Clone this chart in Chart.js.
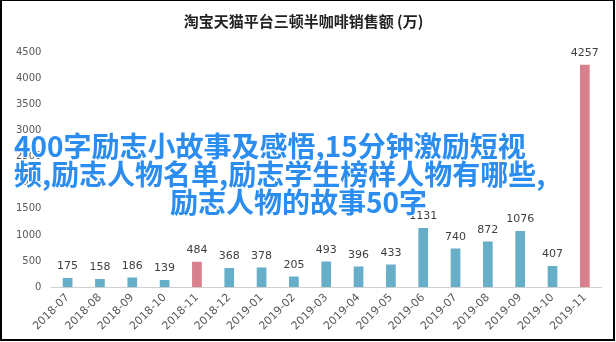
<!DOCTYPE html>
<html>
<head>
<meta charset="utf-8">
<script src="https://cdn.jsdelivr.net/npm/chart.js@4"></script>
<style>
  html, body { margin: 0; padding: 0; background: #fff; }
  #frame {
    position: absolute; left: 0; top: 0;
    width: 611px; height: 338px;
    border-left: 2px solid #000; border-right: 2px solid #000;
    border-top: 1px solid #000; border-bottom: 2px solid #000;
    background: #fff; overflow: hidden;
  }
  #chart { position: absolute; left: 0; top: 0; }
  .ov {
    position: absolute; white-space: nowrap;
    font-family: "Noto Sans CJK SC", sans-serif;
    font-weight: bold; font-size: 28px; line-height: 28px;
    color: #2b8def;
    text-shadow: 1px 1px 0 #fff, -1px -1px 0 #fff, 1px -1px 0 #fff, -1px 1px 0 #fff,
                 0 1px 0 #fff, 0 -1px 0 #fff, 1px 0 0 #fff, -1px 0 0 #fff;
  }
</style>
</head>
<body>
<div id="frame">
  <canvas id="chart" width="611" height="338"></canvas>
  <div class="ov" style="left:12px; top:130px;">400字励志小故事及感悟,15分钟激励短视</div>
  <div class="ov" style="left:12px; top:158px;">频,励志人物名单,励志学生榜样人物有哪些,</div>
  <div class="ov" style="left:168px; top:186px;">励志人物的故事50字</div>
</div>
<script>
let months = [
  '2018-07', '2018-08', '2018-09', '2018-10', '2018-11', '2018-12',
  '2019-01', '2019-02', '2019-03', '2019-04', '2019-05', '2019-06',
  '2019-07', '2019-08', '2019-09', '2019-10', '2019-11'
];

let sales = [
  175, 158, 186, 139, 484, 368,
  378, 205, 493, 396, 433, 1131,
  740, 872, 1076, 407, 4257
];

// double eleven months are highlighted
let highlight = ['2018-11', '2019-11'];

let yTicks = [0, 500, 1000, 1500, 2000, 2500, 3000, 3500, 4000, 4500];

let barColors = months.map(m => highlight.includes(m) ? '#d9808d' : '#67aec9');

const valueLabels = {
  id: 'valueLabels',
  afterDatasetsDraw(chart) {
    const ctx = chart.ctx;
    const meta = chart.getDatasetMeta(0);
    ctx.save();
    ctx.font = '11px "DejaVu Sans", sans-serif';
    ctx.fillStyle = '#404040';
    ctx.textAlign = 'center';
    ctx.textBaseline = 'bottom';
    meta.data.forEach((bar, i) => {
      ctx.fillText(String(sales[i]), bar.x, bar.y - 6);
    });
    ctx.restore();
  }
};

const chart = new Chart(document.getElementById('chart'), {
  type: 'bar',
  data: {
    labels: months,
    datasets: [{
      data: sales,
      backgroundColor: barColors,
      barPercentage: 0.6,
      categoryPercentage: 0.5
    }]
  },
  options: {
    responsive: false,
    animation: false,
    layout: { padding: { left: 4, right: 12, top: 0, bottom: 2 } },
    plugins: {
      legend: { display: false },
      tooltip: { enabled: false },
      title: {
        display: true,
        text: '淘宝天猫平台三顿半咖啡销售额 (万)',
        color: '#222',
        font: { size: 15, weight: 'bold', family: '"Noto Sans CJK SC", sans-serif' },
        padding: { top: 11, bottom: 22 }
      }
    },
    scales: {
      x: {
        grid: { display: false, drawTicks: false },
        border: { color: '#d0d0d0' },
        ticks: {
          color: '#595959',
          font: { size: 11, family: '"DejaVu Sans", sans-serif' },
          minRotation: 45, maxRotation: 45,
          padding: 4
        }
      },
      y: {
        min: 0, max: 4500,
        afterBuildTicks(axis) { axis.ticks = yTicks.map(v => ({ value: v })); },
        grid: { display: false, drawTicks: false },
        border: { display: false },
        ticks: {
          color: '#595959',
          font: { size: 10, family: '"DejaVu Sans", sans-serif' },
          padding: 10,
          callback: v => String(v)
        }
      }
    }
  },
  plugins: [valueLabels]
});
</script>
</body>
</html>
